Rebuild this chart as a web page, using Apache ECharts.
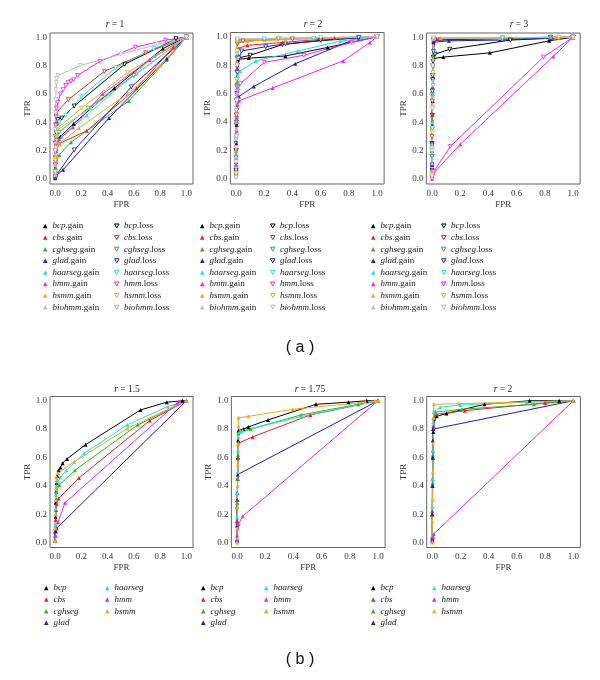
<!DOCTYPE html>
<html><head><meta charset="utf-8">
<script src="https://cdn.jsdelivr.net/npm/echarts@6/dist/echarts.min.js"></script>
<style>html,body{margin:0;padding:0;background:#fff}#c{width:600px;height:680px}</style>
</head><body><div id="c"></div>
<script>
const methodsA = ['bcp','cbs','cghseg','glad','haarseg','hmm','hsmm','biohmm'];
const methodsB = ['bcp','cbs','cghseg','glad','haarseg','hmm','hsmm'];
const methodColors = ['#000000','#ee2020','#22bb22','#1a1acc','#22e0e0','#ee22ee','#f5a623','#bbbbbb'];
const titlesA = ['1','2','3'];
const titlesB = ['1.5','1.75','2'];
const tickValues = [0,0.2,0.4,0.6,0.8,1.0];

// panel (a), r = 1
const r1Gain = [
 [[0,0.02],[0,0.08],[0.002,0.14],[0.004,0.2],[0.007,0.25],[0.01,0.28],[0.04,0.30],[0.14,0.39],[0.45,0.64],[0.82,0.92],[1,1]],
 [[0,0.01],[0,0.07],[0.002,0.12],[0.005,0.17],[0.01,0.21],[0.03,0.25],[0.24,0.34],[0.62,0.64],[0.9,0.93],[1,1]],
 [[0,0.01],[0.001,0.04],[0.003,0.08],[0.006,0.12],[0.03,0.17],[0.12,0.26],[0.56,0.55],[0.85,0.84],[1,1]],
 [[0,0.005],[0.002,0.02],[0.005,0.03],[0.06,0.065],[0.41,0.43],[0.85,0.85],[1,1]],
 [[0,0.03],[0.002,0.1],[0.005,0.18],[0.01,0.24],[0.05,0.3],[0.24,0.45],[0.76,0.87],[1,1]],
 [[0,0.04],[0.002,0.12],[0.005,0.2],[0.01,0.25],[0.03,0.28],[0.135,0.365],[0.36,0.6],[0.72,0.84],[1,1]],
 [[0,0.03],[0.002,0.1],[0.005,0.17],[0.01,0.22],[0.03,0.25],[0.18,0.36],[0.55,0.6],[0.8,0.8],[1,1]],
 [[0,0.03],[0.001,0.1],[0.003,0.18],[0.006,0.26],[0.01,0.31],[0.02,0.35],[0.27,0.5],[0.62,0.74],[1,1]]
];
const r1Loss = [
 [[0,0.05],[0,0.15],[0.003,0.25],[0.006,0.33],[0.01,0.38],[0.02,0.42],[0.05,0.43],[0.145,0.515],[0.53,0.81],[0.92,0.99],[1,1]],
 [[0,0.1],[0,0.2],[0.002,0.3],[0.004,0.38],[0.007,0.44],[0.01,0.47],[0.1,0.56],[0.375,0.76],[0.69,0.89],[1,1]],
 [[0,0.04],[0.002,0.12],[0.005,0.2],[0.01,0.27],[0.03,0.33],[0.25,0.5],[0.6,0.73],[1,1]],
 [[0,0.01],[0.003,0.02],[0.01,0.03],[0.145,0.205],[0.58,0.65],[1,1]],
 [[0,0.05],[0.002,0.15],[0.005,0.25],[0.01,0.33],[0.03,0.4],[0.08,0.45],[0.2,0.58],[0.46,0.785],[0.75,0.92],[1,1]],
 [[0,0.1],[0,0.25],[0.003,0.38],[0.006,0.46],[0.01,0.5],[0.02,0.54],[0.04,0.6],[0.06,0.63],[0.08,0.66],[0.1,0.68],[0.12,0.69],[0.14,0.70],[0.17,0.73],[0.34,0.83],[0.61,0.93],[0.84,0.98],[1,1]],
 [[0,0.05],[0.002,0.13],[0.005,0.22],[0.01,0.3],[0.02,0.36],[0.2,0.5],[0.55,0.75],[1,1]],
 [[0,0.05],[0,0.2],[0,0.35],[0.002,0.47],[0.004,0.56],[0.006,0.63],[0.008,0.68],[0.01,0.71],[0.02,0.73],[0.19,0.8],[0.5,0.88],[0.78,0.95],[1,1]]
];
// panel (a), r = 2
const r2Gain = [
 [[0,0.03],[0,0.15],[0.002,0.3],[0.004,0.45],[0.006,0.6],[0.008,0.72],[0.01,0.8],[0.015,0.84],[0.09,0.85],[0.35,0.865],[0.65,0.925],[1,1]],
 [[0,0.04],[0,0.2],[0.002,0.4],[0.005,0.6],[0.008,0.78],[0.01,0.88],[0.02,0.92],[0.08,0.94],[0.33,0.96],[0.7,0.99],[1,1]],
 [[0,0.05],[0,0.22],[0.002,0.45],[0.005,0.68],[0.008,0.86],[0.01,0.96],[0.2,0.98],[0.6,0.99],[1,1]],
 [[0,0.03],[0,0.12],[0.002,0.25],[0.005,0.38],[0.008,0.5],[0.02,0.58],[0.125,0.65],[0.42,0.81],[0.87,0.995],[1,1]],
 [[0,0.04],[0,0.18],[0.002,0.35],[0.005,0.52],[0.008,0.66],[0.01,0.72],[0.03,0.76],[0.14,0.83],[0.44,0.9],[0.74,0.97],[1,1]],
 [[0,0.02],[0,0.1],[0.002,0.22],[0.004,0.34],[0.006,0.44],[0.01,0.52],[0.02,0.55],[0.26,0.64],[0.76,0.83],[0.95,0.96],[1,1]],
 [[0,0.06],[0,0.2],[0.002,0.4],[0.005,0.6],[0.008,0.82],[0.01,0.965],[0.08,0.97],[0.35,0.98],[1,1]],
 [[0,0.02],[0,0.15],[0.002,0.35],[0.005,0.6],[0.008,0.85],[0.01,0.98],[0.5,0.99],[1,1]]
];
const r2Loss = [
 [[0,0.05],[0,0.2],[0.002,0.38],[0.004,0.55],[0.007,0.7],[0.01,0.8],[0.015,0.85],[0.1,0.87],[0.33,0.945],[0.6,0.975],[1,1]],
 [[0,0.06],[0,0.25],[0.002,0.45],[0.005,0.65],[0.008,0.85],[0.01,0.95],[0.05,0.97],[0.4,0.985],[1,1]],
 [[0,0.07],[0,0.3],[0.002,0.55],[0.005,0.75],[0.008,0.9],[0.01,0.97],[0.3,0.985],[1,1]],
 [[0,0.06],[0,0.2],[0.002,0.4],[0.005,0.6],[0.01,0.75],[0.02,0.85],[0.04,0.9],[0.21,0.93],[0.35,0.95],[0.87,0.995],[1,1]],
 [[0,0.08],[0,0.28],[0.002,0.5],[0.005,0.7],[0.008,0.88],[0.01,0.975],[0.2,0.985],[0.55,0.99],[1,1]],
 [[0,0.03],[0,0.15],[0.002,0.3],[0.004,0.45],[0.007,0.56],[0.01,0.62],[0.03,0.67],[0.2,0.82],[0.48,0.87],[0.82,0.96],[1,1]],
 [[0,0.04],[0,0.22],[0.002,0.48],[0.005,0.7],[0.008,0.9],[0.01,0.975],[0.3,0.99],[1,1]],
 [[0,0.01],[0,0.12],[0.002,0.3],[0.005,0.55],[0.008,0.8],[0.01,0.985],[0.6,0.995],[1,1]]
];
// panel (a), r = 3
const r3Gain = [
 [[0,0.04],[0,0.2],[0.002,0.38],[0.004,0.55],[0.007,0.72],[0.01,0.85],[0.08,0.86],[0.41,0.89],[0.83,0.975],[1,1]],
 [[0,0.05],[0,0.25],[0.002,0.45],[0.004,0.65],[0.006,0.85],[0.008,0.97],[0.05,0.99],[0.85,0.995],[1,1]],
 [[0,0.02],[0,0.2],[0.002,0.42],[0.004,0.62],[0.007,0.87],[0.01,0.98],[0.9,0.995],[1,1]],
 [[0,0.1],[0,0.23],[0.002,0.4],[0.004,0.6],[0.007,0.82],[0.01,0.965],[0.12,0.975],[0.48,0.98],[0.84,0.995],[1,1]],
 [[0,0.04],[0,0.18],[0.002,0.35],[0.004,0.6],[0.007,0.8],[0.01,0.99],[0.84,1],[1,1]],
 [[0,0],[0.003,0.02],[0.01,0.04],[0.2,0.245],[0.86,0.865],[1,1]],
 [[0,0.2],[0,0.33],[0.002,0.5],[0.005,0.7],[0.008,0.85],[0.01,0.99],[0.06,0.995],[0.48,0.995],[0.88,1],[1,1]],
 [[0,0.01],[0,0.15],[0.002,0.4],[0.005,0.7],[0.01,0.995],[1,1]]
];
const r3Loss = [
 [[0,0.06],[0,0.25],[0.002,0.45],[0.005,0.7],[0.01,0.86],[0.02,0.88],[0.125,0.915],[0.555,0.98],[1,1]],
 [[0,0.08],[0,0.3],[0.002,0.55],[0.005,0.8],[0.008,0.98],[0.5,0.995],[1,1]],
 [[0,0.05],[0,0.35],[0.002,0.6],[0.005,0.79],[0.01,0.985],[1,1]],
 [[0,0.1],[0,0.16],[0,0.24],[0.002,0.62],[0.004,0.73],[0.007,0.83],[0.01,0.9],[0.02,0.98],[0.84,1],[1,1]],
 [[0,0.03],[0,0.22],[0.002,0.36],[0.004,0.5],[0.007,0.66],[0.01,0.99],[0.5,0.995],[1,1]],
 [[0,0.01],[0.005,0.03],[0.01,0.05],[0.13,0.23],[0.79,0.86],[1,1]],
 [[0,0.03],[0,0.2],[0.002,0.33],[0.004,0.5],[0.007,0.75],[0.01,0.99],[0.9,1],[1,1]],
 [[0,0.02],[0,0.2],[0.002,0.5],[0.005,0.8],[0.01,0.995],[1,1]]
];
// panel (b)
const r15Roc = [
 [[0,0.01],[0,0.08],[0.002,0.18],[0.004,0.28],[0.007,0.36],[0.01,0.42],[0.015,0.47],[0.025,0.51],[0.04,0.53],[0.056,0.56],[0.09,0.59],[0.23,0.69],[0.65,0.935],[0.85,0.99],[0.97,1],[1,1]],
 [[0,0.01],[0,0.08],[0.003,0.16],[0.006,0.23],[0.01,0.27],[0.025,0.31],[0.18,0.455],[0.72,0.86],[1,1]],
 [[0,0.02],[0,0.1],[0.003,0.2],[0.006,0.3],[0.01,0.36],[0.03,0.405],[0.15,0.51],[0.63,0.83],[1,1]],
 [[0,0.01],[0,0.05],[0.005,0.08],[0.01,0.1],[1,1]],
 [[0,0.02],[0,0.12],[0.003,0.24],[0.006,0.34],[0.01,0.4],[0.02,0.43],[0.04,0.46],[0.085,0.51],[0.22,0.63],[0.55,0.83],[0.86,0.96],[1,1]],
 [[0,0.01],[0,0.05],[0.005,0.1],[0.02,0.145],[0.075,0.28],[0.93,0.985],[1,1]],
 [[0,0.01],[0,0.1],[0.002,0.2],[0.004,0.3],[0.007,0.38],[0.01,0.44],[0.01,0.46],[0.02,0.49],[0.145,0.57],[0.55,0.805],[1,1]]
];
const r175Roc = [
 [[0,0.02],[0,0.15],[0.002,0.3],[0.004,0.45],[0.006,0.6],[0.008,0.72],[0.01,0.79],[0.045,0.8],[0.08,0.815],[0.22,0.865],[0.56,0.975],[0.79,0.99],[0.92,1],[1,1]],
 [[0,0.02],[0,0.15],[0.002,0.3],[0.004,0.45],[0.007,0.6],[0.01,0.7],[0.11,0.745],[0.52,0.9],[1,1]],
 [[0,0.01],[0,0.12],[0.002,0.28],[0.004,0.45],[0.007,0.62],[0.01,0.77],[0.095,0.8],[0.455,0.9],[0.86,0.975],[1,1]],
 [[0,0.02],[0,0.12],[0,0.25],[0.002,0.35],[0.005,0.48],[1,1]],
 [[0,0.03],[0,0.18],[0.002,0.35],[0.004,0.5],[0.007,0.65],[0.01,0.74],[0.02,0.78],[0.04,0.79],[0.46,0.89],[1,1]],
 [[0,0.01],[0,0.05],[0.005,0.1],[0.01,0.13],[0.04,0.185],[1,1]],
 [[0,0],[0,0.1],[0.002,0.25],[0.004,0.4],[0.006,0.55],[0.008,0.7],[0.01,0.82],[0.01,0.88],[0.08,0.89],[0.395,0.94],[0.91,0.99],[0.98,1],[1,1]]
];
const r2bRoc = [
 [[0,0.03],[0,0.2],[0.002,0.4],[0.004,0.6],[0.007,0.78],[0.015,0.875],[0.03,0.89],[0.1,0.91],[0.37,0.975],[0.69,1],[0.9,1],[1,1]],
 [[0,0.04],[0,0.22],[0.002,0.45],[0.004,0.65],[0.007,0.82],[0.01,0.88],[0.03,0.905],[0.23,0.93],[0.8,0.985],[1,1]],
 [[0,0.02],[0,0.2],[0.002,0.42],[0.004,0.62],[0.007,0.8],[0.01,0.88],[0.02,0.92],[0.21,0.94],[0.72,0.975],[1,1]],
 [[0,0.02],[0,0.2],[0,0.4],[0.002,0.6],[0.003,0.72],[0.005,0.8],[1,1]],
 [[0,0.05],[0,0.25],[0.002,0.45],[0.004,0.65],[0.007,0.85],[0.01,0.92],[0.055,0.955],[0.2,0.97],[0.67,0.99],[1,1]],
 [[0,0.01],[0.005,0.04],[0.01,0.06],[1,1]],
 [[0,0],[0,0.15],[0.002,0.3],[0.004,0.5],[0.006,0.7],[0.008,0.88],[0.01,0.975],[0.185,0.98],[1,1]]
];

const SERIF = '"Liberation Serif","DejaVu Serif",serif';
const DOWN = 'path://M0,0L10,0L5,9Z';
const grids = [
 {left:50,top:33,width:143,height:151},
 {left:230.4,top:32.5,width:153.7,height:151.5},
 {left:426.4,top:33,width:153.7,height:151},
 {left:50,top:396.5,width:143,height:151},
 {left:231.4,top:396.5,width:153.7,height:151},
 {left:426.7,top:396.5,width:153.7,height:151}
].map(g => Object.assign(g, {show:true, borderColor:'#666', borderWidth:1, containLabel:false}));

const axisLabel = {customValues:tickValues, formatter:v=>v.toFixed(1), fontFamily:SERIF, fontSize:9, color:'#333'};
const xAxes = grids.map((g,i)=>({gridIndex:i,type:'value',min:-0.04,max:1.05,name:'FPR',nameLocation:'middle',nameGap:16,
  nameTextStyle:{fontFamily:SERIF,fontSize:9,color:'#333'},axisLine:{show:false},axisTick:{show:false},splitLine:{show:false},
  axisLabel:Object.assign({margin:5},axisLabel)}));
const yAxes = grids.map((g,i)=>({gridIndex:i,type:'value',min:-0.035,max:1.03,name:'TPR',nameLocation:'middle',nameGap:18,
  nameTextStyle:{fontFamily:SERIF,fontSize:9,color:'#333'},axisLine:{show:false},axisTick:{show:false},splitLine:{show:false},
  axisLabel:Object.assign({margin:3},axisLabel)}));

const series = [];
function addSeries(name, data, idx, c, hollow){
  series.push({type:'line', name, data, xAxisIndex:idx, yAxisIndex:idx, showAllSymbol:true,
    symbol: hollow ? DOWN : 'triangle', symbolSize: hollow ? 4 : 4,
    itemStyle: hollow ? {color:'#fff', borderColor:c, borderWidth:0.8} : {color:c},
    lineStyle:{color:c, width:1}, silent:true, animation:false, z:2});
}
const gainA = [r1Gain, r2Gain, r3Gain], lossA = [r1Loss, r2Loss, r3Loss];
for (let p=0;p<3;p++){
  methodsA.forEach((m,i)=>{
    addSeries(m+'.gain', gainA[p][i], p, methodColors[i], false);
    addSeries(m+'.loss', lossA[p][i], p, methodColors[i], true);
  });
}
const rocB = [r15Roc, r175Roc, r2bRoc];
for (let p=0;p<3;p++){
  methodsB.forEach((m,i)=> addSeries(m, rocB[p][i], 3+p, methodColors[i], false));
}

const legendText = {fontFamily:SERIF, fontSize:9, color:'#222', lineHeight:10,
  rich:{i:{fontStyle:'italic', fontFamily:SERIF, fontSize:9, color:'#222', lineHeight:10}}};
function mkLegend(left, top, items, fmt){
  return {orient:'vertical', left, top, itemWidth:4.5, itemHeight:4.5, itemGap:1.6, padding:0, selectedMode:false,
    data:items, textStyle:legendText, formatter:fmt};
}
const fmtA = n => { const k=n.indexOf('.'); return '{i|'+n.slice(0,k)+'}'+n.slice(k); };
const fmtB = n => '{i|'+n+'}';
const legends = [];
[[43,114],[200,270],[371,441]].forEach(([c1,c2])=>{
  legends.push(mkLegend(c1,221,methodsA.map((m,i)=>({name:m+'.gain',icon:'triangle',itemStyle:{color:methodColors[i],borderWidth:0}})),fmtA));
  legends.push(mkLegend(c2,221,methodsA.map((m,i)=>({name:m+'.loss',icon:DOWN,itemStyle:{color:'#fff',borderColor:methodColors[i],borderWidth:1}})),fmtA));
});
[[44,105],[201,264],[371,432]].forEach(([c1,c2])=>{
  legends.push(mkLegend(c1,583,methodsB.slice(0,4).map((m,i)=>({name:m,icon:'triangle',itemStyle:{color:methodColors[i],borderWidth:0}})),fmtB));
  legends.push(mkLegend(c2,583,methodsB.slice(4).map((m,i)=>({name:m,icon:'triangle',itemStyle:{color:methodColors[i+4],borderWidth:0}})),fmtB));
});

const titlePos = [[115,24.5],[313,24.5],[519,24.5],[127,389],[310,389],[503,389]];
const titleTexts = titlesA.concat(titlesB);
const graphic = titlePos.map((p,i)=>({type:'text', x:p[0], y:p[1], silent:true,
  style:{text:'{i|r} = '+titleTexts[i], align:'center', verticalAlign:'middle', textAlign:'center', textVerticalAlign:'middle',
    fontFamily:SERIF, fontSize:9.5, fill:'#222', rich:{i:{fontStyle:'italic', fontFamily:SERIF, fontSize:9.5, fill:'#222'}}}}));
graphic.push({type:'text', x:300, y:348, silent:true, style:{text:'( a )', align:'center', verticalAlign:'middle', textAlign:'center', textVerticalAlign:'middle', fontFamily:'"Liberation Sans",Arial,sans-serif', fontSize:16, fill:'#111'}});
graphic.push({type:'text', x:300, y:660, silent:true, style:{text:'( b )', align:'center', verticalAlign:'middle', textAlign:'center', textVerticalAlign:'middle', fontFamily:'"Liberation Sans",Arial,sans-serif', fontSize:16, fill:'#111'}});

const chart = echarts.init(document.getElementById('c'));
chart.setOption({animation:false, backgroundColor:'#fff', grid:grids, xAxis:xAxes, yAxis:yAxes, legend:legends, series, graphic});
</script></body></html>
